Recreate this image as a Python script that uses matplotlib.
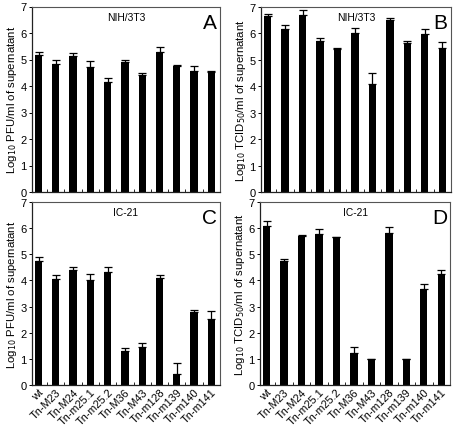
import matplotlib
matplotlib.use("Agg")
import matplotlib.pyplot as plt
import numpy as np

plt.rcParams['font.family'] = ['Liberation Sans', 'DejaVu Sans']

categories = ["wt", "Tn-M23", "Tn-M24", "Tn-m25.1", "Tn-m25.2", "Tn-M36",
              "Tn-M43", "Tn-m128", "Tn-m139", "Tn-m140", "Tn-m141"]

# Panel A: NIH/3T3, log10 PFU/ml
a_vals = [5.18, 4.82, 5.15, 4.73, 4.14, 4.90, 4.43, 5.28, 4.76, 4.58, 4.53]
a_err = [0.10, 0.16, 0.08, 0.22, 0.15, 0.07, 0.05, 0.18, 0.04, 0.18, 0.05]
# Panel B: NIH/3T3, log10 TCID50/ml
b_vals = [6.67, 6.15, 6.68, 5.72, 5.41, 6.02, 4.07, 6.50, 5.62, 5.97, 5.45]
b_err = [0.08, 0.18, 0.20, 0.10, 0.02, 0.18, 0.42, 0.10, 0.08, 0.20, 0.22]
# Panel C: IC-21, log10 PFU/ml
c_vals = [4.73, 4.06, 4.40, 4.03, 4.32, 1.30, 1.47, 4.08, 0.43, 2.80, 2.53]
c_err = [0.16, 0.15, 0.13, 0.22, 0.20, 0.13, 0.15, 0.13, 0.42, 0.05, 0.30]
# Panel D: IC-21, log10 TCID50/ml
d_vals = [6.10, 4.74, 5.70, 5.78, 5.65, 1.22, 0.98, 5.80, 0.98, 3.69, 4.23]
d_err = [0.17, 0.08, 0.04, 0.18, 0.02, 0.25, 0.01, 0.23, 0.01, 0.17, 0.18]

W, H = 459, 427
fig = plt.figure(figsize=(W / 100, H / 100), dpi=100)

def box(l, r, t, b):
    return [l / W, (H - b) / H, (r - l) / W, (b - t) / H]

panels = [
    (box(32, 220, 7.5, 193), a_vals, a_err, "NIH/3T3", "A", "PFU", False),
    (box(261, 451, 8, 193), b_vals, b_err, "NIH/3T3", "B", "TCID", False),
    (box(32, 220, 203, 386), c_vals, c_err, "IC-21", "C", "PFU", True),
    (box(260, 450, 203, 386), d_vals, d_err, "IC-21", "D", "TCID", True),
]

x = np.arange(len(categories))
for rect, vals, err, title, letter, kind, labels in panels:
    ax = fig.add_axes(rect)
    ax.bar(x, vals, width=0.42, color="black", zorder=2)
    ax.errorbar(x, vals, yerr=[np.zeros(len(err)), err], fmt="none",
                ecolor="black", elinewidth=0.9, capsize=2.6, capthick=0.9, zorder=3)
    ax.set_xlim(-0.38, 10.47)
    ax.set_ylim(0, 7)
    ax.set_yticks(range(8))
    ax.tick_params(axis="y", labelsize=8, length=2.5, width=0.7, pad=1.5, direction="out")
    ax.set_xticks(x)
    ax.set_xticks(x + 0.5, minor=True)
    ax.tick_params(axis="x", which="major", length=0, pad=1)
    ax.tick_params(axis="x", which="minor", length=2, width=0.6, direction="in")
    if labels:
        ax.set_xticklabels(categories, rotation=45, ha="right", rotation_mode="anchor",
                           fontsize=7.8)
    else:
        ax.set_xticklabels([])
    for s in ["top", "right"]:
        ax.spines[s].set_color("#555555")
        ax.spines[s].set_linewidth(0.8)
    for s in ["left", "bottom"]:
        ax.spines[s].set_color("#222222")
        ax.spines[s].set_linewidth(0.9)
    if kind == "PFU":
        ylabel = r"Log$_{10}$ PFU/ml of supernatant"
    else:
        ylabel = r"Log$_{10}$ TCID$_{50}$/ml of supernatant"
    ax.set_ylabel(ylabel, fontsize=8.2, labelpad=1)
    ax.text(0.5, 0.945, title, transform=ax.transAxes, ha="center", va="center",
            fontsize=7.4)
    ax.text(0.945, 0.915, letter, transform=ax.transAxes, ha="center", va="center",
            fontsize=15)

fig.savefig("out.png", dpi=100)
